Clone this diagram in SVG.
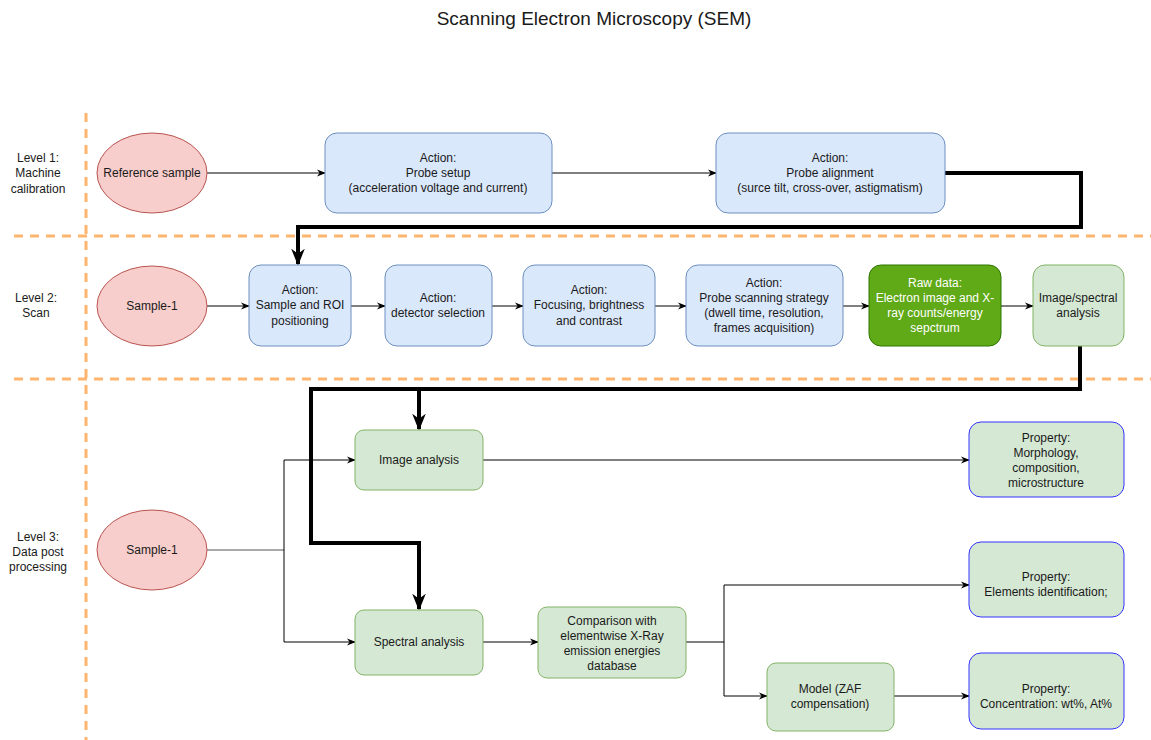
<svg xmlns="http://www.w3.org/2000/svg" width="1151" height="740" viewBox="0 0 1151 740">
  <style>
    text { font-family: "Liberation Sans", Arial, Helvetica, sans-serif; font-size: 12px; fill: #1a1a1a; text-anchor: middle; dominant-baseline: central; }
    .title { font-size: 19px; }
    .lvl { font-size: 12px; }
    .white { fill: #ffffff; }
    .sample { fill: #f8cecc; stroke: #b85450; stroke-width: 1; }
    .action { fill: #dae8fc; stroke: #6c8ebf; stroke-width: 1; }
    .raw { fill: #60a917; stroke: #2d7600; stroke-width: 1; }
    .analysis { fill: #d5e8d4; stroke: #82b366; stroke-width: 1; }
    .property { fill: #d5e8d4; stroke: #3333ff; stroke-width: 1; }
    .lane { fill: none; stroke: #ffb570; stroke-width: 3; stroke-dasharray: 9 7; }
    .line { fill: none; stroke: #000000; stroke-width: 1; }
    .thin { fill: none; stroke: #000000; stroke-width: 1; marker-end: url(#arrow); }
    .thick { fill: none; stroke: #000000; stroke-width: 4; }
    .thickArrow { fill: none; stroke: #000000; stroke-width: 4; marker-end: url(#arrowBig); }
  </style>
  <defs>
    <marker id="arrow" viewBox="0 0 10 10" refX="9" refY="5" markerWidth="9" markerHeight="9" markerUnits="userSpaceOnUse" orient="auto">
      <path d="M0,1 L10,5 L0,9 L3,5 z" fill="#000000"/>
    </marker>
    <marker id="arrowBig" viewBox="0 0 10 10" refX="9" refY="5" markerWidth="17" markerHeight="17" markerUnits="userSpaceOnUse" orient="auto">
      <path d="M0,1 L10,5 L0,9 L3,5 z" fill="#000000"/>
    </marker>
  </defs>

  <rect width="1151" height="740" fill="#ffffff"/>

  <text class="title" x="594" y="18">Scanning Electron Microscopy (SEM)</text>

  <!-- swimlane separators -->
  <g id="lanes">
    <line class="lane" x1="86" y1="113" x2="86" y2="740"/>
    <line class="lane" x1="14" y1="236" x2="1151" y2="236"/>
    <line class="lane" x1="14" y1="379" x2="1151" y2="379"/>
    <text class="lvl" x="38" y="158">Level 1:</text>
    <text class="lvl" x="38" y="173">Machine</text>
    <text class="lvl" x="38" y="189">calibration</text>
    <text class="lvl" x="36" y="298">Level 2:</text>
    <text class="lvl" x="36" y="313">Scan</text>
    <text class="lvl" x="38" y="537">Level 3:</text>
    <text class="lvl" x="38" y="552">Data post</text>
    <text class="lvl" x="38" y="567">processing</text>
  </g>

  <!-- connectors -->
  <g id="connectors">
    <path class="thin" d="M207,173 L325,173"/>
    <path class="thin" d="M552,173 L716,173"/>
    <path class="thickArrow" d="M945,173 L1081,173 L1081,227 L298,227 L298,264"/>
    <path class="thin" d="M207,306 L249,306"/>
    <path class="thin" d="M351,306 L385,306"/>
    <path class="thin" d="M492,306 L523,306"/>
    <path class="thin" d="M655,306 L686,306"/>
    <path class="thin" d="M843,306 L869,306"/>
    <path class="thin" d="M1001,306 L1033,306"/>
    <path class="thick" d="M1080,346 L1080,389 L311,389 L311,543 L419,543 L419,560"/>
    <path class="thickArrow" d="M419,555 L419,609"/>
    <path class="thickArrow" d="M419,389 L419,429"/>
    <path class="line" style="stroke:#555555" d="M207,550 L284,550"/>
    <path class="thin" d="M284,550 L284,460 L355,460"/>
    <path class="thin" d="M284,550 L284,642 L355,642"/>
    <path class="thin" d="M483,460 L969,460"/>
    <path class="thin" d="M483,642 L538,642"/>
    <path class="thin" d="M686,642 L724,642 L724,585 L969,585"/>
    <path class="thin" d="M724,642 L724,696 L767,696"/>
    <path class="thin" d="M894,696 L969,696"/>
  </g>

  <!-- level 1 -->
  <g id="reference-sample">
    <ellipse class="sample" cx="152" cy="173" rx="55" ry="40"/>
    <text x="152" y="173">Reference sample</text>
  </g>
  <g id="probe-setup">
    <rect class="action" x="325" y="133" width="227" height="80" rx="12"/>
    <text x="438" y="158">Action:</text>
    <text x="438" y="173">Probe setup</text>
    <text x="438" y="188">(acceleration voltage and current)</text>
  </g>
  <g id="probe-alignment">
    <rect class="action" x="716" y="133" width="229" height="80" rx="12"/>
    <text x="830" y="158">Action:</text>
    <text x="830" y="173">Probe alignment</text>
    <text x="830" y="188">(surce tilt, cross-over, astigmatism)</text>
  </g>

  <!-- level 2 -->
  <g id="sample-1-scan">
    <ellipse class="sample" cx="152" cy="306" rx="55" ry="40"/>
    <text x="152" y="306">Sample-1</text>
  </g>
  <g id="roi-positioning">
    <rect class="action" x="249" y="265" width="102" height="81" rx="12"/>
    <text x="300" y="290">Action:</text>
    <text x="300" y="305">Sample and ROI</text>
    <text x="300" y="321">positioning</text>
  </g>
  <g id="detector-selection">
    <rect class="action" x="385" y="265" width="107" height="81" rx="12"/>
    <text x="438" y="298">Action:</text>
    <text x="438" y="313">detector selection</text>
  </g>
  <g id="focusing">
    <rect class="action" x="523" y="265" width="132" height="81" rx="12"/>
    <text x="589" y="290">Action:</text>
    <text x="589" y="305">Focusing, brightness</text>
    <text x="589" y="321">and contrast</text>
  </g>
  <g id="scanning-strategy">
    <rect class="action" x="686" y="265" width="157" height="81" rx="12"/>
    <text x="764" y="283">Action:</text>
    <text x="764" y="298">Probe scanning strategy</text>
    <text x="764" y="313">(dwell time, resolution,</text>
    <text x="764" y="328">frames acquisition)</text>
  </g>
  <g id="raw-data">
    <rect class="raw" x="869" y="265" width="132" height="81" rx="12"/>
    <text class="white" x="935" y="283">Raw data:</text>
    <text class="white" x="935" y="298">Electron image and X-</text>
    <text class="white" x="935" y="313">ray counts/energy</text>
    <text class="white" x="935" y="328">sepctrum</text>
  </g>
  <g id="image-spectral-analysis">
    <rect class="analysis" x="1033" y="265" width="91" height="81" rx="12"/>
    <text x="1078" y="298">Image/spectral</text>
    <text x="1078" y="313">analysis</text>
  </g>

  <!-- level 3 -->
  <g id="sample-1-post">
    <ellipse class="sample" cx="152" cy="550" rx="55" ry="40"/>
    <text x="152" y="550">Sample-1</text>
  </g>
  <g id="image-analysis">
    <rect class="analysis" x="355" y="430" width="128" height="60" rx="9"/>
    <text x="419" y="460">Image analysis</text>
  </g>
  <g id="spectral-analysis">
    <rect class="analysis" x="355" y="610" width="128" height="65" rx="9"/>
    <text x="419" y="642">Spectral analysis</text>
  </g>
  <g id="database-comparison">
    <rect class="analysis" x="538" y="607" width="148" height="71" rx="9"/>
    <text x="612" y="621">Comparison with</text>
    <text x="612" y="636">elementwise X-Ray</text>
    <text x="612" y="651">emission energies</text>
    <text x="612" y="666">database</text>
  </g>
  <g id="zaf-model">
    <rect class="analysis" x="767" y="663" width="127" height="68" rx="9"/>
    <text x="830" y="689">Model (ZAF</text>
    <text x="830" y="704">compensation)</text>
  </g>
  <g id="property-morphology">
    <rect class="property" x="969" y="422" width="155" height="75" rx="12"/>
    <text x="1046" y="438">Property:</text>
    <text x="1046" y="453">Morphology,</text>
    <text x="1046" y="468">composition,</text>
    <text x="1046" y="483">microstructure</text>
  </g>
  <g id="property-elements">
    <rect class="property" x="969" y="542" width="155" height="75" rx="12"/>
    <text x="1046" y="577">Property:</text>
    <text x="1046" y="592">Elements identification;</text>
  </g>
  <g id="property-concentration">
    <rect class="property" x="969" y="653" width="155" height="76" rx="12"/>
    <text x="1046" y="689">Property:</text>
    <text x="1046" y="704">Concentration: wt%, At%</text>
  </g>
</svg>
